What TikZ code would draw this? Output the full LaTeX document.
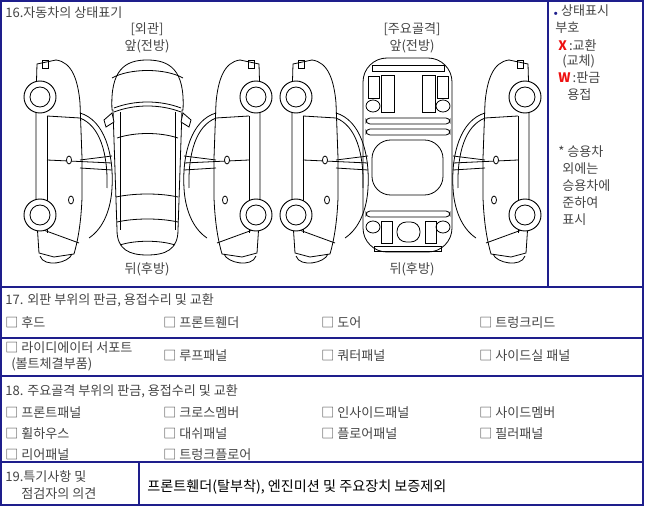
\documentclass[tikz,border=0pt]{standalone}
\usepackage{fontspec}
\setmainfont{Noto Sans CJK KR}
\begin{document}
\begin{tikzpicture}[x=0.75pt,y=-0.75pt,
  frame/.style={draw=navy,line width=1pt},
  txt/.style={anchor=west,inner sep=0pt,text=tgray,font=\fontsize{9.8}{11}\selectfont},
  ctxt/.style={inner sep=0pt,text=tgray,font=\fontsize{9.8}{11}\selectfont},
  carline/.style={draw=black,line width=0.6pt},
  wheel/.style={draw=black,fill=white,line width=0.7pt}]
\definecolor{navy}{HTML}{1E1E8C}
\definecolor{tgray}{HTML}{444444}
\definecolor{xred}{HTML}{EE1111}
\useasboundingbox (0,0) rectangle (646,506);
% table
\draw[frame] (1,1) rectangle (643,505);
\draw[frame] (548,1) -- (548,287);
\draw[frame] (1,287) -- (643,287);
\draw[frame] (1,338) -- (643,338);
\draw[frame] (1,376) -- (643,376);
\draw[frame] (1,462) -- (643,462);
\draw[frame] (139,462) -- (139,505);
% section 16 texts
\node[txt] (t16) at (5,13) {16.자동차의 상태표기};
\node[ctxt] (h1) at (147,29) {[외관]};
\node[ctxt] (f1) at (147,46) {앞(전방)};
\node[ctxt] (r1) at (147,269) {뒤(후방)};
\node[ctxt] (h2) at (412,29) {[주요골격]};
\node[ctxt] (f2) at (412,46) {앞(전방)};
\node[ctxt] (r2) at (412,269) {뒤(후방)};
% legend
\node[txt] (l1) at (553,11) {\textcolor{navy}{\tiny$\bullet$} 상태표시};
\node[txt] (l2) at (555,28) {부호};
\node[txt] (l3) at (558,45) {\textcolor{xred}{\textbf{X}}\,:교환};
\node[txt] (l4) at (562,61) {(교체)};
\node[txt] (l5) at (558,78) {\textcolor{xred}{\textbf{W}}\,:판금};
\node[txt] (l6) at (567,95) {용접};
\node[txt] (l7) at (558,152) {* 승용차};
\node[txt] (l8) at (562,169) {외에는};
\node[txt] (l9) at (562,186) {승용차에};
\node[txt] (l10) at (562,203) {준하여};
\node[txt] (l11) at (562,220) {표시};
% side car definition
\newcommand{\sidecar}{%
  \draw[carline] (3,6) -- (22,2) .. controls (38,4) and (44,22) .. (46,45) -- (48,100) -- (48,140) .. controls (47,165) and (44,182) .. (40,196) -- (20,199) -- (5,195) -- (2,150) -- (2,40) -- cycle;
  \draw[carline] (46,55) .. controls (70,62) and (80,95) .. (78,130) .. controls (77,150) and (70,170) .. (55,180);
  \draw[carline] (46,60) .. controls (66,68) and (74,95) .. (73,130);
  \draw[carline] (13,58) -- (46,60);
  \draw[carline] (13,102) -- (78,105);
  \draw[carline] (13,58) -- (13,175);
  \draw[carline] (8,2) rectangle (14,10);
  \draw[carline] (46,102) -- (78,98) (46,110) -- (78,112);
  \draw[carline] (4,170) -- (45,185);
  \draw[carline] (6,198) .. controls (10,210) and (35,205) .. (38,196);
  \draw[wheel] (6,39) circle (16); \draw[carline] (6,39) circle (10);
  \draw[wheel] (6,157) circle (16); \draw[carline] (6,157) circle (10);
  \draw[carline,fill=white] (35,102) ellipse (2.5 and 4);
  \draw[carline,fill=white] (37,142) ellipse (2.5 and 4);
}
\begin{scope}[shift={(34,58)}]\sidecar\end{scope}
\begin{scope}[shift={(262,58)},xscale=-1]\sidecar\end{scope}
\begin{scope}[shift={(290,58)}]\sidecar\end{scope}
\begin{scope}[shift={(531,58)},xscale=-1]\sidecar\end{scope}
% top view car
\draw[carline,fill=white] (112,110) .. controls (110,70) and (125,60) .. (147,60) .. controls (170,60) and (185,70) .. (183,110) -- (182,110) -- (178,230) .. controls (178,250) and (165,255) .. (147,255) .. controls (130,255) and (117,250) .. (117,230) -- (113,110) -- cycle;
\draw[carline] (112,78) .. controls (130,68) and (165,68) .. (183,78);
\draw[carline] (114,108) .. controls (135,100) and (160,100) .. (181,108);
\draw[carline] (114,112) .. controls (135,104) and (160,104) .. (181,112);
\draw[carline] (117,138) .. controls (135,132) and (160,132) .. (178,138);
\draw[carline] (116,197) .. controls (135,193) and (160,193) .. (178,197);
\draw[carline] (117,222) .. controls (135,218) and (160,218) .. (178,222);
\draw[carline] (120,245) .. controls (135,240) and (160,240) .. (175,245);
\draw[carline] (120,112) -- (120,230) (175,112) -- (175,230);
\draw[carline,fill=white] (104,120) -- (112,113) -- (114,122) -- (106,127) -- cycle;
\draw[carline,fill=white] (191,120) -- (183,113) -- (181,122) -- (189,127) -- cycle;
% frame
\draw[carline,rounded corners=18] (363,58) rectangle (452,252);
\draw[carline] (372,65) rectangle (444,71);
\draw[carline] (368,76) rectangle (379,98);
\draw[carline] (437,76) rectangle (448,98);
\draw[carline] (381,75) rectangle (394,112);
\draw[carline] (422,75) rectangle (435,112);
\draw[carline] (373,106) ellipse (7 and 6);
\draw[carline] (443,106) ellipse (7 and 6);
\draw[carline,rounded corners=3] (366,118) rectangle (450,124);
\draw[carline,rounded corners=3] (366,129) rectangle (450,135);
\draw[carline,rounded corners=14] (372,140) rectangle (443,195);
\draw[carline,rounded corners=3] (366,211) rectangle (450,217);
\draw[carline] (373,227) ellipse (7 and 6);
\draw[carline] (443,227) ellipse (7 and 6);
\draw[carline] (381,221) rectangle (392,243);
\draw[carline] (425,221) rectangle (436,243);
\draw[carline,rounded corners=7] (397,222) rectangle (420,242);
\draw[carline] (374,246) rectangle (441,251);
% section 17
\node[txt] (t17) at (5,300) {17. 외판 부위의 판금, 용접수리 및 교환};
\node[txt] (a1) at (5,323) {□ 후드};
\node[txt] (a2) at (163,323) {□ 프론트휀더};
\node[txt] (a3) at (321,323) {□ 도어};
\node[txt] (a4) at (479,323) {□ 트렁크리드};
\node[txt] (b1) at (5,348) {□ 라이디에이터 서포트};
\node[txt] (b1b) at (11,364) {(볼트체결부품)};
\node[txt] (b2) at (163,356) {□ 루프패널};
\node[txt] (b3) at (321,356) {□ 쿼터패널};
\node[txt] (b4) at (479,356) {□ 사이드실 패널};
% section 18
\node[txt] (t18) at (5,391) {18. 주요골격 부위의 판금, 용접수리 및 교환};
\node[txt] (c1) at (5,413) {□ 프론트패널};
\node[txt] (c2) at (163,413) {□ 크로스멤버};
\node[txt] (c3) at (321,413) {□ 인사이드패널};
\node[txt] (c4) at (479,413) {□ 사이드멤버};
\node[txt] (d1) at (5,434) {□ 휠하우스};
\node[txt] (d2) at (163,434) {□ 대쉬패널};
\node[txt] (d3) at (321,434) {□ 플로어패널};
\node[txt] (d4) at (479,434) {□ 필러패널};
\node[txt] (e1) at (5,455) {□ 리어패널};
\node[txt] (e2) at (163,455) {□ 트렁크플로어};
% section 19
\node[txt] (t19) at (5,477) {19.특기사항 및};
\node[txt] (t19b) at (21,494) {점검자의 의견};
\node[txt,text=black,font=\fontsize{10.6}{12}\selectfont] (n19) at (147,487) {프론트휀더(탈부착), 엔진미션 및 주요장치 보증제외};
\end{tikzpicture}
\end{document}
